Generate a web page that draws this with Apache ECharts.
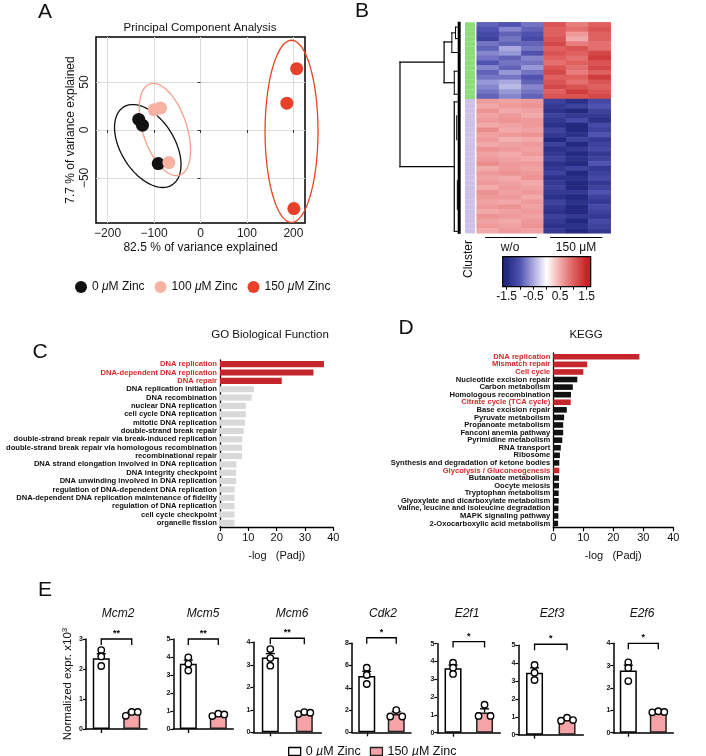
<!DOCTYPE html>
<html><head><meta charset="utf-8">
<script src="https://cdn.jsdelivr.net/npm/echarts@6/dist/echarts.min.js"></script>
<style>html,body{margin:0;padding:0;background:#fff}#c{width:706px;height:756px}</style>
</head><body><div id="c"></div><script>
const FONT = '"Liberation Sans", Arial, Helvetica, sans-serif';

// ---------- Panel A : PCA ----------
const pcaGroups = ['0 μM Zinc', '100 μM Zinc', '150 μM Zinc'];
const pca0 = [[-133, 11], [-125, 5], [-91, -35]];
const pca100 = [[-100, 21], [-86, 23], [-68, -34]];
const pca150 = [[207, 64], [186, 28], [201, -82]];
// ellipse: centre x, centre y, half-axis U (dx, dy), half-axis V (dx, dy)
const pcaEllipses = [
  [-113.5, -16.7, 52.2, -40.6, -49.0, -14.9],
  [-76.7, 0.5, 31.8, -47.6, -45.2, -7.1],
  [196.0, -1.4, 0, 95, 57, 0]
];
const pcaXTicks = [-200, -100, 0, 100, 200];
const pcaYTicks = [-50, 0, 50];

// ---------- Panel B : heatmap ----------
const heatColumns = ['w/o 1', 'w/o 2', 'w/o 3', '150 1', '150 2', '150 3'];
const heatGreen = [
  [-0.9, -1.0, -0.8, 1.1, 0.8, 1.0],
  [-1.0, -0.7, -0.9, 1.0, 0.9, 1.1],
  [-1.1, -0.9, -1.0, 1.0, 0.6, 1.0],
  [-1.2, -0.8, -1.1, 1.1, 0.5, 1.0],
  [-0.8, -0.9, -0.9, 1.2, 0.8, 0.9],
  [-0.9, -0.5, -0.8, 1.0, 1.1, 0.9],
  [-0.7, -0.6, -1.0, 1.1, 1.0, 1.2],
  [-0.8, -0.9, -0.7, 1.0, 0.9, 1.3],
  [-1.0, -0.8, -0.8, 0.9, 1.0, 1.1],
  [-0.7, -0.9, -0.6, 1.1, 0.9, 1.2],
  [-0.9, -0.6, -0.8, 1.2, 0.8, 1.0],
  [-0.8, -0.8, -1.0, 1.0, 1.0, 1.3],
  [-0.6, -0.5, -0.9, 1.1, 0.9, 1.1],
  [-0.7, -0.4, -0.7, 1.2, 1.1, 1.0],
  [-0.8, -0.6, -0.8, 1.0, 1.3, 1.1],
  [-0.9, -0.7, -0.9, 1.1, 1.1, 1.2]
];
const heatViolet = [
  [0.6, 0.55, 0.6, -1.2, -1.4, -1.1],
  [0.5, 0.6, 0.65, -1.3, -1.2, -1.0],
  [0.65, 0.5, 0.55, -1.4, -1.5, -1.2],
  [0.55, 0.6, 0.5, -1.2, -1.3, -1.3],
  [0.6, 0.65, 0.6, -1.3, -1.1, -1.4],
  [0.5, 0.55, 0.6, -1.4, -1.5, -1.1],
  [0.7, 0.5, 0.55, -1.2, -1.6, -1.2],
  [0.55, 0.6, 0.65, -1.3, -1.4, -1.0],
  [0.6, 0.45, 0.5, -1.5, -1.2, -1.3],
  [0.5, 0.55, 0.6, -1.2, -1.5, -1.2],
  [0.65, 0.6, 0.55, -1.4, -1.3, -1.1],
  [0.55, 0.5, 0.6, -1.3, -1.6, -1.3],
  [0.6, 0.55, 0.5, -1.2, -1.4, -1.2],
  [0.7, 0.6, 0.6, -1.4, -1.5, -1.0],
  [0.5, 0.6, 0.55, -1.3, -1.2, -1.3],
  [0.6, 0.65, 0.6, -1.2, -1.6, -1.2],
  [0.55, 0.5, 0.65, -1.4, -1.4, -1.1],
  [0.6, 0.55, 0.5, -1.3, -1.5, -1.3],
  [0.5, 0.6, 0.55, -1.2, -1.6, -1.2],
  [0.65, 0.55, 0.6, -1.3, -1.3, -1.0],
  [0.6, 0.6, 0.5, -1.4, -1.5, -1.2],
  [0.55, 0.5, 0.6, -1.2, -1.4, -1.3],
  [0.6, 0.65, 0.55, -1.3, -1.6, -1.1],
  [0.5, 0.55, 0.6, -1.4, -1.5, -1.2],
  [0.65, 0.6, 0.55, -1.2, -1.3, -1.3],
  [0.55, 0.5, 0.6, -1.3, -1.5, -1.1],
  [0.6, 0.55, 0.65, -1.4, -1.4, -1.2],
  [0.5, 0.6, 0.55, -1.3, -1.6, -1.3]
];
// dendrogram segments: [height1, row1, height2, row2, lineWidth]
const dendroSegments = [
  [1.0, 8.3, 1.0, 30.1, 1.2],
  [1.0, 8.3, 0.277, 8.3, 1.2],
  [1.0, 30.1, 0.11, 30.1, 1.2],
  [0.277, 4.1, 0.277, 12.6, 1.2],
  [0.277, 4.1, 0.15, 4.1, 1.2],
  [0.277, 12.6, 0.11, 12.6, 1.2],
  [0.15, 2.2, 0.15, 6.3, 1.0],
  [0.15, 2.2, 0.09, 2.2, 1.0],
  [0.15, 6.3, 0.05, 6.3, 1.0],
  [0.09, 1.0, 0.09, 3.4, 1.0],
  [0.09, 1.0, 0.04, 1.0, 1.0],
  [0.09, 3.4, 0.04, 3.4, 1.0],
  [0.11, 10.2, 0.11, 15.0, 1.0],
  [0.11, 10.2, 0.05, 10.2, 1.0],
  [0.11, 15.0, 0.05, 15.0, 1.0],
  [0.11, 16.6, 0.11, 43.6, 1.2],
  [0.11, 16.6, 0.04, 16.6, 1.0],
  [0.11, 43.6, 0.04, 43.6, 1.0],
  [0.07, 19.5, 0.07, 24.5, 1.0],
  [0.06, 33.0, 0.06, 39.0, 1.0],
  [0.03, 0.2, 0.03, 43.8, 3.0]
];
const clusterColors = ['#8ddc7a', '#cdc0ea'];
const colorbarLabels = [-1.5, -0.5, 0.5, 1.5];
const heatPalette = ['#23297f', '#4f52b0', '#a9a9df', '#ffffff', '#f2a9a9', '#e06060', '#c42424'];

// ---------- Panel C : GO ----------
const goTerms = ['DNA replication', 'DNA-dependent DNA replication', 'DNA repair', 'DNA replication initiation',
  'DNA recombination', 'nuclear DNA replication', 'cell cycle DNA replication', 'mitotic DNA replication',
  'double-strand break repair', 'double-strand break repair via break-induced replication',
  'double-strand break repair via homologous recombination', 'recombinational repair',
  'DNA strand elongation involved in DNA replication', 'DNA integrity checkpoint',
  'DNA unwinding involved in DNA replication', 'regulation of DNA-dependent DNA replication',
  'DNA-dependent DNA replication maintenance of fidelity', 'regulation of DNA replication',
  'cell cycle checkpoint', 'organelle fission'];
const goValues = [36.7, 33.0, 21.8, 12.0, 11.2, 9.1, 9.1, 8.8, 8.4, 7.9, 7.8, 7.8, 5.8, 5.7, 5.7, 5.2, 5.1, 5.1, 5.1, 5.1];
const goHighlight = [1, 1, 1, 0, 0, 0, 0, 0, 0, 0, 0, 0, 0, 0, 0, 0, 0, 0, 0, 0];

// ---------- Panel D : KEGG ----------
const keggTerms = ['DNA replication', 'Mismatch repair', 'Cell cycle', 'Nucleotide excision repair',
  'Carbon metabolism', 'Homologous recombination', 'Citrate cycle (TCA cycle)', 'Base excision repair',
  'Pyruvate metabolism', 'Propanoate metabolism', 'Fanconi anemia pathway', 'Pyrimidine metabolism',
  'RNA transport', 'Ribosome', 'Synthesis and degradation of ketone bodies', 'Glycolysis / Gluconeogenesis',
  'Butanoate metabolism', 'Oocyte meiosis', 'Tryptophan metabolism', 'Glyoxylate and dicarboxylate metabolism',
  'Valine, leucine and isoleucine degradation', 'MAPK signaling pathway', '2-Oxocarboxylic acid metabolism'];
const keggValues = [28.7, 11.3, 10.0, 8.0, 6.5, 5.9, 5.8, 4.5, 3.6, 3.3, 3.3, 3.0, 2.5, 2.2, 2.0, 2.0, 1.9, 1.9, 1.8, 1.8, 1.7, 1.7, 1.6];
const keggHighlight = [1, 1, 1, 0, 0, 0, 1, 0, 0, 0, 0, 0, 0, 0, 0, 1, 0, 0, 0, 0, 0, 0, 0];

// ---------- Panel E : qPCR ----------
const genes = ['Mcm2', 'Mcm5', 'Mcm6', 'Cdk2', 'E2f1', 'E2f3', 'E2f6'];
const eGroups = ['0 µM Zinc', '150 µM Zinc'];
const ctrlMean = [2.36, 3.62, 3.32, 5.06, 3.62, 3.47, 2.78];
const zincMean = [0.52, 0.80, 0.86, 1.65, 1.13, 0.85, 0.95];
const ctrlSem = [0.15, 0.21, 0.18, 0.42, 0.18, 0.27, 0.24];
const zincSem = [0.05, 0.04, 0.03, 0.20, 0.21, 0.05, 0.02];
const ctrlPts = [[2.63, 2.42, 2.10], [3.98, 3.62, 3.25], [3.70, 3.30, 2.96], [5.81, 5.15, 4.34], [3.93, 3.65, 3.30], [3.90, 3.47, 3.06], [3.15, 2.90, 2.31]];
const zincPts = [[0.44, 0.57, 0.57], [0.72, 0.85, 0.81], [0.81, 0.90, 0.87], [1.42, 2.00, 1.42], [0.94, 1.57, 0.94], [0.78, 0.95, 0.82], [0.91, 0.96, 0.93]];
const eYMax = [3, 5, 4, 8, 5, 5, 4];
const eYStep = [1, 1, 1, 2, 1, 1, 1];
const eSig = ['**', '**', '**', '*', '*', '*', '*'];
const eBracketY = [3.0, 5.0, 4.18, 8.5, 5.12, 5.06, 4.0];

// ================= build =================
const grids = [], xAxes = [], yAxes = [], series = [];
function addGrid(g, xa, ya) {
  grids.push(g); const i = grids.length - 1;
  xa.gridIndex = i; ya.gridIndex = i; xAxes.push(xa); yAxes.push(ya); return i;
}
const minus = v => (v < 0 ? '\u2212' + Math.abs(v) : '' + v);
const hidden = (extra) => Object.assign({ show: false }, extra);

// ---- A
const gA = addGrid({ left: 96, top: 37, width: 209, height: 186, show: true, borderColor: '#000', borderWidth: 1.5 },
  { type: 'value', min: -225, max: 225, axisLine: { show: false },
    splitLine: { show: true, lineStyle: { color: '#dcdcdc', width: 1 } },
    axisTick: { show: true, customValues: pcaXTicks, length: 3, lineStyle: { color: '#333' } },
    axisLabel: { customValues: pcaXTicks, formatter: minus, fontSize: 12, color: '#222', margin: 5, fontFamily: FONT },
    name: '82.5 % of variance explained', nameLocation: 'middle', nameGap: 19,
    nameTextStyle: { fontSize: 12, color: '#111', fontFamily: FONT } },
  { type: 'value', min: -97, max: 97, axisLine: { show: false },
    splitLine: { show: true, lineStyle: { color: '#dcdcdc', width: 1 } },
    axisTick: { show: true, customValues: pcaYTicks, length: 3, lineStyle: { color: '#333' } },
    axisLabel: { customValues: pcaYTicks, formatter: minus, rotate: 90, fontSize: 12, color: '#222', margin: 5, fontFamily: FONT },
    name: '7.7 % of variance explained', nameLocation: 'middle', nameGap: 19, nameRotate: 90,
    nameTextStyle: { fontSize: 12, color: '#111', fontFamily: FONT } });
const pcaColors = ['#111111', '#f7b2a2', '#e8402a'];
const ellipseColors = ['#111111', '#f4a08a', '#e8461f'];
series.push({ type: 'custom', xAxisIndex: gA, yAxisIndex: gA, clip: false, z: 2, data: pcaEllipses,
  renderItem(params, api) {
    const cx = api.value(0), cy = api.value(1), ux = api.value(2), uy = api.value(3), vx = api.value(4), vy = api.value(5);
    const pts = [];
    for (let k = 0; k <= 90; k++) {
      const t = k / 90 * Math.PI * 2;
      pts.push(api.coord([cx + ux * Math.cos(t) + vx * Math.sin(t), cy + uy * Math.cos(t) + vy * Math.sin(t)]));
    }
    return { type: 'polyline', shape: { points: pts }, style: { stroke: ellipseColors[params.dataIndex], fill: null, lineWidth: 1.3 } };
  } });
[pca0, pca100, pca150].forEach((d, i) => series.push({ type: 'scatter', name: pcaGroups[i], xAxisIndex: gA, yAxisIndex: gA,
  data: d, symbolSize: 13, z: 3, itemStyle: { color: pcaColors[i], opacity: 1 } }));

// ---- B dendrogram
const nRows = heatGreen.length + heatViolet.length;
const gDen = addGrid({ left: 400, top: 22.3, width: 61, height: 211 },
  hidden({ type: 'value', min: 0, max: 1, inverse: true }),
  hidden({ type: 'value', min: 0, max: nRows, inverse: true }));
series.push({ type: 'custom', xAxisIndex: gDen, yAxisIndex: gDen, clip: false, data: dendroSegments,
  renderItem(params, api) {
    const p1 = api.coord([api.value(0), api.value(1)]), p2 = api.coord([api.value(2), api.value(3)]);
    return { type: 'line', shape: { x1: p1[0], y1: p1[1], x2: p2[0], y2: p2[1] }, style: { stroke: '#000', lineWidth: api.value(4), lineCap: 'square' } };
  } });
// cluster bar
const rowNames = Array.from({ length: nRows }, (_, i) => 'r' + i);
const gClu = addGrid({ left: 465, top: 22.3, width: 10, height: 211 },
  hidden({ type: 'value', min: 0, max: 1 }),
  hidden({ type: 'category', data: rowNames, inverse: true }));
series.push({ type: 'bar', xAxisIndex: gClu, yAxisIndex: gClu, barCategoryGap: '0%', silent: true,
  data: rowNames.map((_, i) => ({ value: 1, itemStyle: { color: clusterColors[i < heatGreen.length ? 0 : 1] } })) });
// heatmap
const gHeat = addGrid({ left: 476.7, top: 22.3, width: 134, height: 211 },
  hidden({ type: 'category', data: heatColumns }),
  hidden({ type: 'category', data: rowNames, inverse: true }));
const heatData = [];
heatGreen.concat(heatViolet).forEach((row, r) => row.forEach((v, c) => heatData.push([c, r, v])));
const heatSeriesIndex = series.length;
series.push({ type: 'heatmap', xAxisIndex: gHeat, yAxisIndex: gHeat, data: heatData, itemStyle: { borderWidth: 0 } });
// colorbar
const gBar = addGrid({ left: 506.7, top: 256.7, width: 80, height: 30 },
  { type: 'value', min: -1.5, max: 1.5, interval: 0.5, axisLine: { show: false }, splitLine: { show: false },
    axisTick: { show: true, length: 3, lineStyle: { color: '#000', width: 1 } },
    axisLabel: { fontSize: 12, color: '#111', margin: 4, fontFamily: FONT,
      formatter: v => (colorbarLabels.indexOf(v) >= 0 ? '' + v : '') } },
  hidden({ type: 'value', min: 0, max: 1 }));
const cbStops = heatPalette.map((c, i) => ({ offset: 0.05 + 0.9 * i / (heatPalette.length - 1), color: c }));
series.push({ type: 'custom', xAxisIndex: gBar, yAxisIndex: gBar, clip: false, data: [[-1.65, 1.65]],
  renderItem(params, api) {
    const p1 = api.coord([api.value(0), 1]), p2 = api.coord([api.value(1), 0]);
    return { type: 'rect', shape: { x: p1[0], y: p1[1], width: p2[0] - p1[0], height: p2[1] - p1[1] },
      style: { fill: new echarts.graphic.LinearGradient(0, 0, 1, 0, cbStops), stroke: '#000', lineWidth: 1.2 } };
  } });

// ---- C GO
const gGO = addGrid({ left: 220, top: 360, width: 113.3, height: 167 },
  { type: 'value', min: 0, max: 40, interval: 10, axisLine: { show: true, lineStyle: { color: '#000', width: 1.3 } },
    splitLine: { show: false }, axisTick: { show: true, length: 4, lineStyle: { color: '#000', width: 1.2 } },
    axisLabel: { fontSize: 11, color: '#111', margin: 5, fontFamily: FONT },
    name: '-log   (Padj)', nameLocation: 'middle', nameGap: 23, nameTextStyle: { fontSize: 11, color: '#111', fontFamily: FONT } },
  { type: 'category', inverse: true,
    data: goTerms.map((t, i) => ({ value: t, textStyle: { color: goHighlight[i] ? '#d42a2a' : '#111' } })),
    axisLine: { show: true, lineStyle: { color: '#000', width: 1.3 } }, axisTick: { show: false },
    axisLabel: { fontSize: 7.6, fontWeight: 'bold', margin: 3, fontFamily: FONT, interval: 0 } });
series.push({ type: 'bar', xAxisIndex: gGO, yAxisIndex: gGO, barCategoryGap: '26%',
  data: goValues.map((v, i) => ({ value: v, itemStyle: { color: goHighlight[i] ? '#c4262c' : '#d9d9d9' } })) });

// ---- D KEGG
const gKG = addGrid({ left: 553.3, top: 353, width: 120, height: 174.3 },
  { type: 'value', min: 0, max: 40, interval: 10, axisLine: { show: true, lineStyle: { color: '#000', width: 1.3 } },
    splitLine: { show: false }, axisTick: { show: true, length: 4, lineStyle: { color: '#000', width: 1.2 } },
    axisLabel: { fontSize: 11, color: '#111', margin: 5, fontFamily: FONT },
    name: '-log   (Padj)', nameLocation: 'middle', nameGap: 23, nameTextStyle: { fontSize: 11, color: '#111', fontFamily: FONT } },
  { type: 'category', inverse: true,
    data: keggTerms.map((t, i) => ({ value: t, textStyle: { color: keggHighlight[i] ? '#d42a2a' : '#111' } })),
    axisLine: { show: true, lineStyle: { color: '#000', width: 1.3 } }, axisTick: { show: false },
    axisLabel: { fontSize: 7.6, fontWeight: 'bold', margin: 3, fontFamily: FONT, interval: 0 } });
series.push({ type: 'bar', xAxisIndex: gKG, yAxisIndex: gKG, barCategoryGap: '26%',
  data: keggValues.map((v, i) => ({ value: v, itemStyle: { color: keggHighlight[i] ? '#c4262c' : '#111' } })) });

// ---- E
const eLayout = [
  { left: 86, top: 639, width: 61, height: 90 },
  { left: 173.3, top: 639, width: 60, height: 90 },
  { left: 253.3, top: 642.3, width: 68, height: 90 },
  { left: 352, top: 643.3, width: 59, height: 89 },
  { left: 437.3, top: 643.7, width: 63, height: 89 },
  { left: 518.3, top: 645.3, width: 65, height: 89.4 },
  { left: 613.3, top: 643.3, width: 60, height: 89.4 }
];
const eTitleX = [118, 203, 292, 383, 467, 552, 642];
const zincFill = '#f5a3a6';
genes.forEach((g, i) => {
  const gi = addGrid(eLayout[i],
    { type: 'category', data: eGroups, axisLine: { show: true, lineStyle: { color: '#000', width: 1.5 } },
      axisTick: { show: true, alignWithLabel: true, length: 4, lineStyle: { color: '#000', width: 1.3 } },
      axisLabel: { show: false } },
    { type: 'value', min: 0, max: eYMax[i], interval: eYStep[i], splitLine: { show: false },
      axisLine: { show: true, lineStyle: { color: '#000', width: 1.5 } },
      axisTick: { show: true, length: 3, lineStyle: { color: '#000', width: 1.2 } },
      axisLabel: { fontSize: 7, fontWeight: 'bold', color: '#111', margin: 3, fontFamily: FONT },
      name: i === 0 ? 'Normalized expr. x10{s|3}' : '', nameLocation: 'middle', nameGap: 10, nameRotate: 90,
      nameTextStyle: { fontSize: 11.5, color: '#111', fontFamily: FONT, lineHeight: 14,
        rich: { s: { fontSize: 8, verticalAlign: 'top', lineHeight: 14, fontFamily: FONT } } } });
  series.push({ type: 'bar', name: eGroups[0], xAxisIndex: gi, yAxisIndex: gi, barWidth: 17, barGap: '-100%', z: 2,
    data: [ctrlMean[i], '-'], itemStyle: { color: '#ffffff', borderColor: '#000', borderWidth: 1.5 } });
  series.push({ type: 'bar', name: eGroups[1], xAxisIndex: gi, yAxisIndex: gi, barWidth: 17, barGap: '-100%', z: 2,
    data: ['-', zincMean[i]], itemStyle: { color: zincFill, borderColor: '#222', borderWidth: 1.5 } });
  // error bars (upper half)
  series.push({ type: 'custom', xAxisIndex: gi, yAxisIndex: gi, clip: false, z: 3,
    data: [[0, ctrlMean[i], ctrlSem[i]], [1, zincMean[i], zincSem[i]]],
    renderItem(params, api) {
      const c = api.value(0), m = api.value(1), s = api.value(2);
      const p0 = api.coord([c, m]), p1 = api.coord([c, m + s]);
      const st = { stroke: '#000', lineWidth: 1.4 };
      return { type: 'group', children: [
        { type: 'line', shape: { x1: p0[0], y1: p0[1], x2: p1[0], y2: p1[1] }, style: st },
        { type: 'line', shape: { x1: p1[0] - 4.5, y1: p1[1], x2: p1[0] + 4.5, y2: p1[1] }, style: st }] };
    } });
  // individual points
  const pts = [];
  ctrlPts[i].forEach((v, k) => pts.push([0, v, k]));
  zincPts[i].forEach((v, k) => pts.push([1, v, k]));
  series.push({ type: 'custom', xAxisIndex: gi, yAxisIndex: gi, clip: false, z: 4, data: pts,
    renderItem(params, api) {
      const c = api.value(0), p = api.coord([c, api.value(1)]);
      const dx = c === 1 ? (api.value(2) - 1) * 6 : 0;
      return { type: 'circle', shape: { cx: p[0] + dx, cy: p[1], r: 3.2 }, style: { fill: '#fff', stroke: '#000', lineWidth: 1.4 } };
    } });
  // significance bracket
  series.push({ type: 'custom', xAxisIndex: gi, yAxisIndex: gi, clip: false, z: 4,
    data: [[0, 1, eBracketY[i]]],
    renderItem(params, api) {
      const y = api.value(2), a = api.coord([api.value(0), y]), b = api.coord([api.value(1), y]);
      return { type: 'group', children: [
        { type: 'polyline', shape: { points: [[a[0], a[1] + 6], a, b, [b[0], b[1] + 6]] }, style: { stroke: '#000', lineWidth: 1.3, fill: null } },
        { type: 'text', style: { x: (a[0] + b[0]) / 2, y: a[1] - 1, text: eSig[i], align: 'center', verticalAlign: 'bottom',
          font: 'bold 9px ' + FONT, fill: '#000' } }] };
    } });
});

// ---- texts
const gtext = (x, y, text, size, extra) => Object.assign({ type: 'text', x, y,
  style: Object.assign({ text, font: size + 'px ' + FONT, fill: '#111', align: 'center', verticalAlign: 'middle' }, extra || {}) });
const graphics = [
  gtext(45, 12, 'A', 21), gtext(362, 11, 'B', 21), gtext(40, 352, 'C', 21), gtext(406, 328, 'D', 21), gtext(45, 590, 'E', 21),
  gtext(200, 28, 'Principal Component Analysis', 11.5),
  gtext(270, 335, 'GO Biological Function', 11.5),
  gtext(586, 335, 'KEGG', 11.5),
  gtext(510, 248, 'w/o', 12), gtext(576, 248, '150 μM', 12),
  { type: 'line', shape: { x1: 485, y1: 237.5, x2: 536.7, y2: 237.5 }, style: { stroke: '#000', lineWidth: 1.2 } },
  { type: 'line', shape: { x1: 550, y1: 237.5, x2: 602.3, y2: 237.5 }, style: { stroke: '#000', lineWidth: 1.2 } },
  { type: 'text', x: 469, y: 259, rotation: Math.PI / 2,
    style: { text: 'Cluster', font: '12px ' + FONT, fill: '#111', align: 'center', verticalAlign: 'middle' } }
];
genes.forEach((g, i) => graphics.push(gtext(eTitleX[i], 614, g, 12, { font: 'italic 12px ' + FONT })));

const chart = echarts.init(document.getElementById('c'));
chart.setOption({
  animation: false,
  textStyle: { fontFamily: FONT },
  grid: grids, xAxis: xAxes, yAxis: yAxes, series,
  visualMap: [{ type: 'continuous', show: false, min: -1.5, max: 1.5, seriesIndex: [heatSeriesIndex], inRange: { color: heatPalette } }],
  legend: [
    { data: pcaGroups, left: 70, top: 276, icon: 'circle', itemWidth: 12, itemHeight: 12, itemGap: 10,
      formatter: n => n.replace('μ', '{i|μ}'),
      textStyle: { fontSize: 12, color: '#111', fontFamily: FONT, rich: { i: { fontStyle: 'italic', fontSize: 12, fontFamily: FONT } } } },
    { data: [{ name: eGroups[0], itemStyle: { color: '#fff', borderColor: '#000', borderWidth: 1.3 } },
             { name: eGroups[1], itemStyle: { color: zincFill, borderColor: '#222', borderWidth: 1.3 } }],
      left: 283, top: 740, icon: 'rect', itemWidth: 12, itemHeight: 8, itemGap: 9,
      formatter: n => n.replace('µ', '{i|µ}'),
      textStyle: { fontSize: 12.5, color: '#111', fontFamily: FONT, rich: { i: { fontStyle: 'italic', fontSize: 12.5, fontFamily: FONT } } } }
  ],
  graphic: graphics
});
</script></body></html>
